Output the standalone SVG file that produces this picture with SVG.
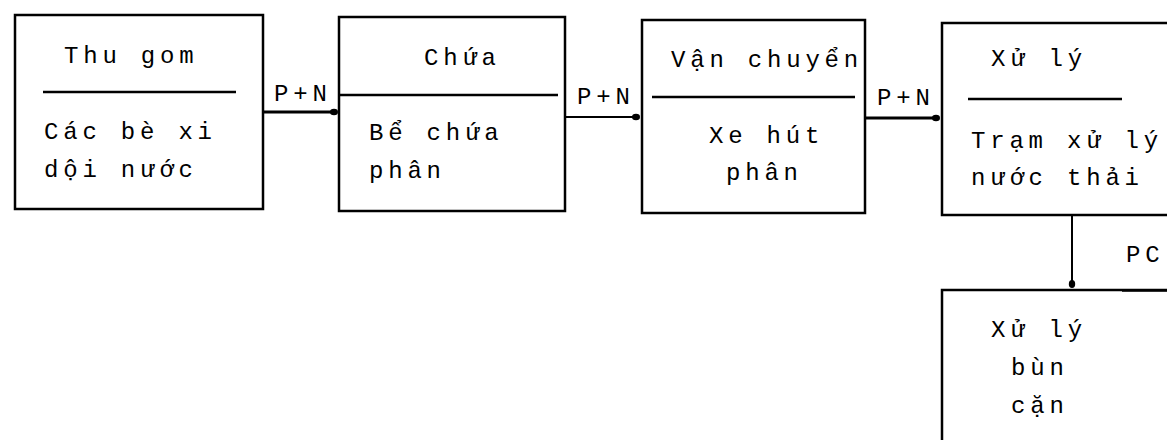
<svg xmlns="http://www.w3.org/2000/svg" width="1167" height="440" viewBox="0 0 1167 440">
  <style>
    .box { fill: #fff; stroke: #000; stroke-width: 2.5; }
    .rule { stroke: #000; stroke-width: 2.5; fill: none; }
    .lbl { font-family: "Liberation Mono", "DejaVu Sans Mono", monospace; font-size: 24px; letter-spacing: 4.8px; fill: #000; }
    .flow { stroke: #000; fill: none; marker-end: url(#dot); }
  </style>
  <defs>
    <marker id="dot" viewBox="0 0 10 10" refX="5" refY="5" markerWidth="8" markerHeight="8" markerUnits="userSpaceOnUse" orient="auto">
      <ellipse cx="5" cy="5" rx="5" ry="4" fill="#000"/>
    </marker>
  </defs>
  <rect width="1167" height="440" fill="#fff"/>

  <!-- connectors -->
  <g id="connectors">
    <path class="flow" stroke-width="3" d="M263,112 H334"/>
    <path class="flow" stroke-width="2" d="M565,117 H636"/>
    <path class="flow" stroke-width="3" d="M865,118 H936"/>
    <path class="flow" stroke-width="2" d="M1072,215 V284"/>
    <text class="lbl" x="274" y="101">P+N</text>
    <text class="lbl" x="577" y="104">P+N</text>
    <text class="lbl" x="877" y="105">P+N</text>
    <text class="lbl" x="1126" y="262">PC</text>
  </g>

  <g id="thu-gom">
    <rect class="box" x="15" y="15" width="248" height="194"/>
    <line class="rule" x1="43" y1="92" x2="236" y2="92"/>
    <text class="lbl" x="64" y="63">Thu gom</text>
    <text class="lbl" x="44" y="139">Các bè xi</text>
    <text class="lbl" x="44" y="177">dội nước</text>
  </g>

  <g id="chua">
    <rect class="box" x="339" y="17" width="226" height="194"/>
    <line class="rule" x1="339" y1="95" x2="558" y2="95"/>
    <text class="lbl" x="424" y="65">Chứa</text>
    <text class="lbl" x="369" y="140">Bể chứa</text>
    <text class="lbl" x="369" y="178">phân</text>
  </g>

  <g id="van-chuyen">
    <rect class="box" x="642" y="20" width="223" height="193"/>
    <line class="rule" x1="652" y1="97" x2="855" y2="97"/>
    <text class="lbl" x="671" y="67">Vận chuyển</text>
    <text class="lbl" x="709" y="143">Xe hút</text>
    <text class="lbl" x="726" y="180">phân</text>
  </g>

  <g id="xu-ly">
    <rect class="box" x="942" y="23" width="240" height="192"/>
    <line class="rule" x1="968" y1="99" x2="1122" y2="99"/>
    <text class="lbl" x="991" y="66">Xử lý</text>
    <text class="lbl" x="971" y="148">Trạm xử lý</text>
    <text class="lbl" x="971" y="185">nước thải</text>
  </g>

  <g id="xu-ly-bun">
    <rect class="box" x="942" y="290" width="240" height="170"/>
    <line class="rule" x1="1122" y1="290.5" x2="1167" y2="290.5" stroke-width="3.5"/>
    <text class="lbl" x="991" y="337">Xử lý</text>
    <text class="lbl" x="1011" y="375">bùn</text>
    <text class="lbl" x="1011" y="413">cặn</text>
  </g>
</svg>
